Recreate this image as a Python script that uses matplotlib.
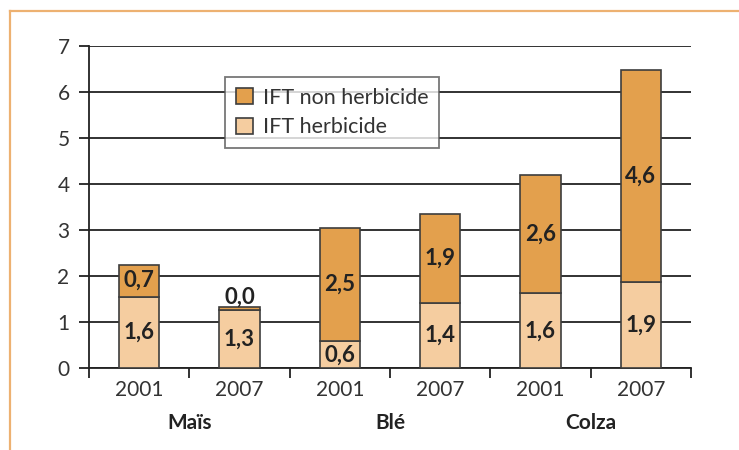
import matplotlib
matplotlib.use("Agg")
import matplotlib.pyplot as plt
from matplotlib.lines import Line2D
import numpy as np

plt.rcParams['font.family'] = ['Lato', 'DejaVu Sans']

groups = ["Maïs", "Blé", "Colza"]
years = ["2001", "2007", "2001", "2007", "2001", "2007"]
herbicide = [1.55, 1.27, 0.58, 1.42, 1.62, 1.88]
non_herbicide = [0.70, 0.05, 2.47, 1.93, 2.58, 4.59]
herb_labels = ["1,6", "1,3", "0,6", "1,4", "1,6", "1,9"]
non_labels = ["0,7", "0,0", "2,5", "1,9", "2,6", "4,6"]
yticks = [0, 1, 2, 3, 4, 5, 6, 7]

c_non = "#E3A04D"
c_herb = "#F5CDA0"
edge = "#3d3d3d"
fs = 15
fsv = 16

fig = plt.figure(figsize=(7.39, 4.5), dpi=100)
# orange frame lines
fig.add_artist(Line2D([10/739, 10/739], [0, 1 - 11/450], color="#EDB171", lw=1.6, transform=fig.transFigure))
fig.add_artist(Line2D([10/739, 1], [1 - 11/450, 1 - 11/450], color="#EDB171", lw=1.6, transform=fig.transFigure))

ax = fig.add_axes([89/739, 1 - 368/450, (691 - 89)/739, (368 - 46)/450])
x = np.arange(len(years))
w = 0.4
b1 = ax.bar(x, herbicide, w, color=c_herb, edgecolor=edge, linewidth=1.2, zorder=3, label="IFT herbicide")
b2 = ax.bar(x, non_herbicide, w, bottom=herbicide, color=c_non, edgecolor=edge, linewidth=1.2, zorder=3, label="IFT non herbicide")

for i in range(len(years)):
    yb = herbicide[i] / 2 if herbicide[i] > 0.8 else herbicide[i] / 2 - 0.02
    ax.text(x[i], yb, herb_labels[i], ha="center", va="center", fontsize=fsv, fontweight="bold",
            color="#222222", zorder=5)
    if non_herbicide[i] > 0.3:
        ax.text(x[i], herbicide[i] + non_herbicide[i] / 2, non_labels[i], ha="center", va="center",
                fontsize=fsv, fontweight="bold", color="#222222", zorder=5)
    else:
        ax.text(x[i], herbicide[i] + non_herbicide[i] + 0.22, non_labels[i], ha="center", va="center",
                fontsize=fsv, fontweight="bold", color="#222222", zorder=5)

ax.set_xlim(-0.5, len(years) - 0.5)
ax.set_ylim(0, 7)
ax.set_yticks(yticks)
ax.set_yticklabels([str(v) for v in yticks], fontsize=fs, color="#333333")
ax.yaxis.grid(True, color="#222222", linewidth=1.3, zorder=0)
ax.set_axisbelow(True)
ax.tick_params(axis="y", length=7, width=1.3, color="#222222", pad=7)

ax.set_xticks(x)
ax.set_xticklabels(years, fontsize=fs, color="#333333")
ax.tick_params(axis="x", which="major", length=0, pad=9)
ax.set_xticks(np.arange(-0.5, len(years), 1.0), minor=True)
ax.tick_params(axis="x", which="minor", length=7, width=1.3, color="#222222")

for s in ["top", "right"]:
    ax.spines[s].set_visible(False)
for s in ["left", "bottom"]:
    ax.spines[s].set_color("#222222")
    ax.spines[s].set_linewidth(1.3)

for gi, g in enumerate(groups):
    ax.text(2 * gi + 0.5, -1.2, g, ha="center", va="center", fontsize=fs,
            fontweight="bold", color="#222222", transform=ax.transData, clip_on=False)

leg = ax.legend(handles=[b2, b1], loc="upper left", bbox_to_anchor=(0.226, 0.904), borderaxespad=0,
                fontsize=15.5, frameon=True, fancybox=False, handlelength=0.8, handleheight=0.8,
                handletextpad=0.45, labelspacing=0.45, borderpad=0.5)
leg.get_frame().set_edgecolor("#555555")
leg.get_frame().set_linewidth(1.3)
for t in leg.get_texts():
    t.set_color("#333333")
leg.set_zorder(6)

fig.savefig("out.png", dpi=100)
